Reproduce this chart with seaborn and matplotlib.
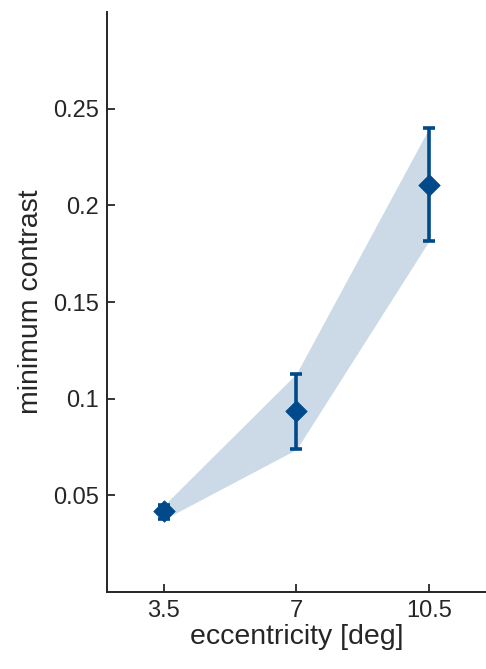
import numpy as np
import pandas as pd
import seaborn as sns
import matplotlib.pyplot as plt

# values
eccentricity = [3.5, 7, 10.5]
min_contrast = [0.0417, 0.0934, 0.2107]
err_low = [0.0376, 0.0738, 0.1817]
err_high = [0.0448, 0.1130, 0.2400]

df = pd.DataFrame({"ecc": eccentricity, "contrast": min_contrast,
                   "lo": err_low, "hi": err_high})

sns.set_style("ticks")
plt.rcParams['font.family'] = ['Liberation Sans', 'DejaVu Sans']

dark = "#00498a"
band = "#cbdae6"

fig = plt.figure(figsize=(4.86, 6.69), dpi=100)
ax = fig.add_axes([0.22, 0.115, 0.78, 0.867])

ax.fill_between(df["ecc"], df["lo"], df["hi"], color=band, lw=0, zorder=1)
ax.errorbar(df["ecc"], df["contrast"],
            yerr=[df["contrast"] - df["lo"], df["hi"] - df["contrast"]],
            fmt="none", ecolor=dark, elinewidth=2.6, capsize=4.5, capthick=2.6, zorder=2)
sns.scatterplot(data=df, x="ecc", y="contrast", marker="D", s=120, color=dark,
                edgecolor=dark, linewidth=0.5, zorder=3, ax=ax)

ax.set_xlim(2, 12)
ax.set_ylim(0, 0.3)
ax.set_xticks(eccentricity)
ax.set_xticklabels(["3.5", "7", "10.5"])
ax.set_yticks([0.05, 0.1, 0.15, 0.2, 0.25])
ax.set_yticklabels(["0.05", "0.1", "0.15", "0.2", "0.25"])
ax.tick_params(direction="in", length=6, width=1.3, labelsize=17, colors="#262626", pad=6)
ax.set_xlabel("eccentricity [deg]", fontsize=20.5, color="#262626", labelpad=1)
ax.set_ylabel("minimum contrast", fontsize=20.5, color="#262626", labelpad=6)
for s in ["top", "right"]:
    ax.spines[s].set_visible(False)
for s in ["left", "bottom"]:
    ax.spines[s].set_linewidth(1.4)
    ax.spines[s].set_color("#262626")

fig.savefig("out.png", dpi=100)
